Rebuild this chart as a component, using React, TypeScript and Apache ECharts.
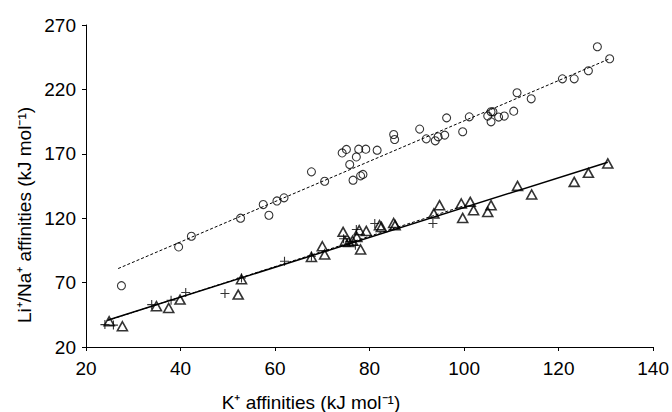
import React, { useEffect, useRef } from "react";
import * as echarts from "echarts";

// K+ affinity (x) vs Li+ affinity (y) — circles
const circleData: [number, number][] = [
  [27.5, 67.6], [39.6, 97.7], [42.3, 106.0], [52.7, 120.0],
  [57.5, 130.6], [58.7, 122.3], [60.4, 133.4], [61.9, 135.8],
  [67.7, 156.0], [70.5, 148.7], [74.2, 170.7], [75.1, 173.4],
  [77.7, 173.6], [79.2, 173.6], [77.2, 167.6], [75.8, 161.7],
  [76.5, 149.5], [78.1, 152.9], [78.6, 154.0], [81.6, 172.8],
  [85.1, 185.0], [85.3, 181.1], [90.6, 189.2], [92.0, 181.6],
  [93.9, 180.1], [94.5, 183.2], [95.9, 184.5], [96.3, 197.9],
  [99.7, 187.1], [101.1, 198.7], [105.0, 199.3], [105.7, 202.6],
  [106.1, 202.6], [105.7, 194.8], [107.3, 198.5], [108.5, 199.3],
  [110.5, 203.1], [111.2, 217.4], [114.2, 212.7], [120.8, 228.2],
  [123.3, 228.2], [126.3, 234.5], [128.2, 253.1], [130.8, 243.8],
];

// K+ affinity (x) vs Na+ affinity (y) — triangles
const triangleData: [number, number][] = [
  [24.9, 40.0], [27.7, 36.1], [34.9, 51.7], [37.5, 50.3], [39.9, 56.8],
  [52.2, 60.7], [52.9, 72.6], [67.7, 89.9], [70.0, 98.2], [70.5, 91.8],
  [74.4, 109.4], [74.8, 102.0], [75.6, 101.5], [76.4, 102.5], [77.3, 105.5],
  [77.8, 110.7], [78.1, 95.7], [79.3, 110.1], [82.1, 114.6], [82.5, 113.2],
  [85.1, 116.3], [85.4, 114.6], [93.6, 123.6], [94.8, 130.1], [99.4, 131.4],
  [99.7, 120.2], [101.3, 132.7], [102.0, 126.2], [105.0, 124.9], [105.7, 130.1],
  [111.3, 145.1], [114.3, 138.4], [123.3, 148.2], [126.3, 155.2], [130.4, 162.5],
];

// plus markers
const plusData: [number, number][] = [
  [24.0, 37.4], [25.8, 37.0], [33.9, 52.9], [38.0, 56.3], [41.1, 62.3],
  [49.4, 61.5], [52.9, 73.6], [62.0, 86.6], [67.7, 90.5], [74.5, 104.0],
  [75.8, 102.0], [77.0, 99.0], [77.2, 111.2], [81.1, 115.9], [93.4, 115.9],
];

// fitted lines (end points)
const circleFit: [number, number][] = [[26.8, 80.9], [130.8, 243.8]];
const triangleFit: [number, number][] = [[24.7, 41.0], [130.4, 163.5]];
const plusFit: [number, number][] = [[24.5, 40.5], [100.4, 130.1]];

const xAxisTitle = "K\u207A affinities (kJ mol\u207B\u00B9)";
const yAxisTitle = "Li\u207A/Na\u207A affinities (kJ mol\u207B\u00B9)";

const FONT = "'Liberation Sans', Arial, Helvetica, sans-serif";

export default function App() {
  const ref = useRef<HTMLDivElement>(null);
  useEffect(() => {
    if (!ref.current) return;
    const chart = echarts.init(ref.current, undefined, { renderer: "svg" });
    const axisCommon = {
      type: "value" as const,
      axisLine: { show: true, lineStyle: { color: "#000", width: 1 } },
      axisTick: { show: true, length: 4, lineStyle: { color: "#000", width: 1 } },
      splitLine: { show: false },
    };
    chart.setOption({
      animation: false,
      backgroundColor: "#fff",
      grid: { left: 86, right: 18, top: 25, bottom: 65, containLabel: false },
      xAxis: {
        ...axisCommon,
        min: 20,
        max: 140,
        interval: 20,
        axisLabel: { color: "#000", fontSize: 19, fontFamily: FONT, margin: 11, lineHeight: 20 },
      },
      yAxis: {
        ...axisCommon,
        min: 20,
        max: 270,
        interval: 50,
        axisLabel: { color: "#000", fontSize: 19, fontFamily: FONT, margin: 10, lineHeight: 20 },
      },
      graphic: [
        {
          type: "text",
          x: 311,
          y: 402,
          style: {
            text: xAxisTitle,
            fill: "#000",
            font: `19px ${FONT}`,
            align: "center",
            verticalAlign: "middle",
          },
        },
        {
          type: "text",
          x: 24,
          y: 215,
          rotation: Math.PI / 2,
          style: {
            text: yAxisTitle,
            fill: "#000",
            font: `19px ${FONT}`,
            align: "center",
            verticalAlign: "middle",
          },
        },
      ],
      series: [
        {
          type: "line",
          data: circleFit,
          symbol: "none",
          lineStyle: { color: "#000", width: 1, type: [3, 2] },
          z: 1,
        },
        {
          type: "line",
          data: triangleFit,
          symbol: "none",
          lineStyle: { color: "#000", width: 1.5 },
          z: 1,
        },
        {
          type: "line",
          data: plusFit,
          symbol: "none",
          lineStyle: { color: "#000", width: 1, type: [3, 2] },
          z: 1,
        },
        {
          type: "scatter",
          data: circleData,
          symbol: "circle",
          symbolSize: 8,
          itemStyle: { color: "rgba(0,0,0,0)", borderColor: "#000", borderWidth: 1.1 },
          z: 2,
        },
        {
          type: "scatter",
          data: triangleData,
          symbol: "triangle",
          symbolSize: [10, 9],
          itemStyle: { color: "rgba(0,0,0,0)", borderColor: "#000", borderWidth: 1.6 },
          z: 2,
        },
        {
          type: "scatter",
          data: plusData,
          symbol: "path://M0,5L10,5M5,0L5,10",
          symbolSize: 9,
          itemStyle: { color: "rgba(0,0,0,0)", borderColor: "#000", borderWidth: 1.1 },
          z: 2,
        },
      ],
    });
    return () => chart.dispose();
  }, []);
  return (
    <div
      ref={ref}
      style={{ position: "fixed", left: 0, top: 0, width: 672, height: 412, background: "#fff" }}
    />
  );
}
